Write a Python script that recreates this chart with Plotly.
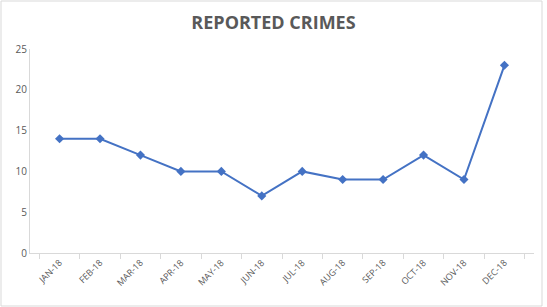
import plotly.graph_objects as go

months = ["JAN-18", "FEB-18", "MAR-18", "APR-18", "MAY-18", "JUN-18",
          "JUL-18", "AUG-18", "SEP-18", "OCT-18", "NOV-18", "DEC-18"]
crimes = [14, 14, 12, 10, 10, 7, 10, 9, 9, 12, 9, 23]
y_ticks = [0, 5, 10, 15, 20, 25]

W, H = 547, 307
ml, mr, mt, mb = 30, 13, 49, 54
pw, ph = W - ml - mr, H - mt - mb

fig = go.Figure(go.Scatter(
    x=months, y=crimes, mode="lines+markers",
    line=dict(color="#4472C4", width=2),
    marker=dict(symbol="diamond", size=7, color="#4472C4"),
))

def px_x(p):
    return (p - ml) / pw

def px_y(p):
    return (H - mb - p) / ph

fig.update_layout(
    width=W, height=H,
    margin=dict(l=ml, r=mr, t=mt, b=mb),
    paper_bgcolor="white", plot_bgcolor="white",
    showlegend=False,
    title=dict(text="<b>REPORTED CRIMES</b>", x=0.5, xanchor="center",
               y=1 - 23 / H, yanchor="middle",
               font=dict(family="Open Sans", size=18, color="#595959")),
    xaxis=dict(type="category", showline=True, linecolor="#d9d9d9", linewidth=1,
               ticks="outside", tickson="boundaries", ticklen=5, tickcolor="#d9d9d9",
               tickangle=-45, showgrid=False, zeroline=False,
               tickfont=dict(family="Open Sans", size=9, color="#595959")),
    yaxis=dict(range=[0, 25], tickvals=y_ticks, showline=True, linecolor="#d9d9d9",
               linewidth=1, showgrid=False, zeroline=False, ticks="",
               tickfont=dict(family="Open Sans", size=10, color="#595959")),
    shapes=[dict(type="rect", xref="paper", yref="paper",
                 x0=px_x(1), x1=px_x(542), y0=px_y(306), y1=px_y(1),
                 line=dict(color="#d9d9d9", width=1), fillcolor="rgba(0,0,0,0)",
                 layer="below")],
)

fig.write_html("out.html")
